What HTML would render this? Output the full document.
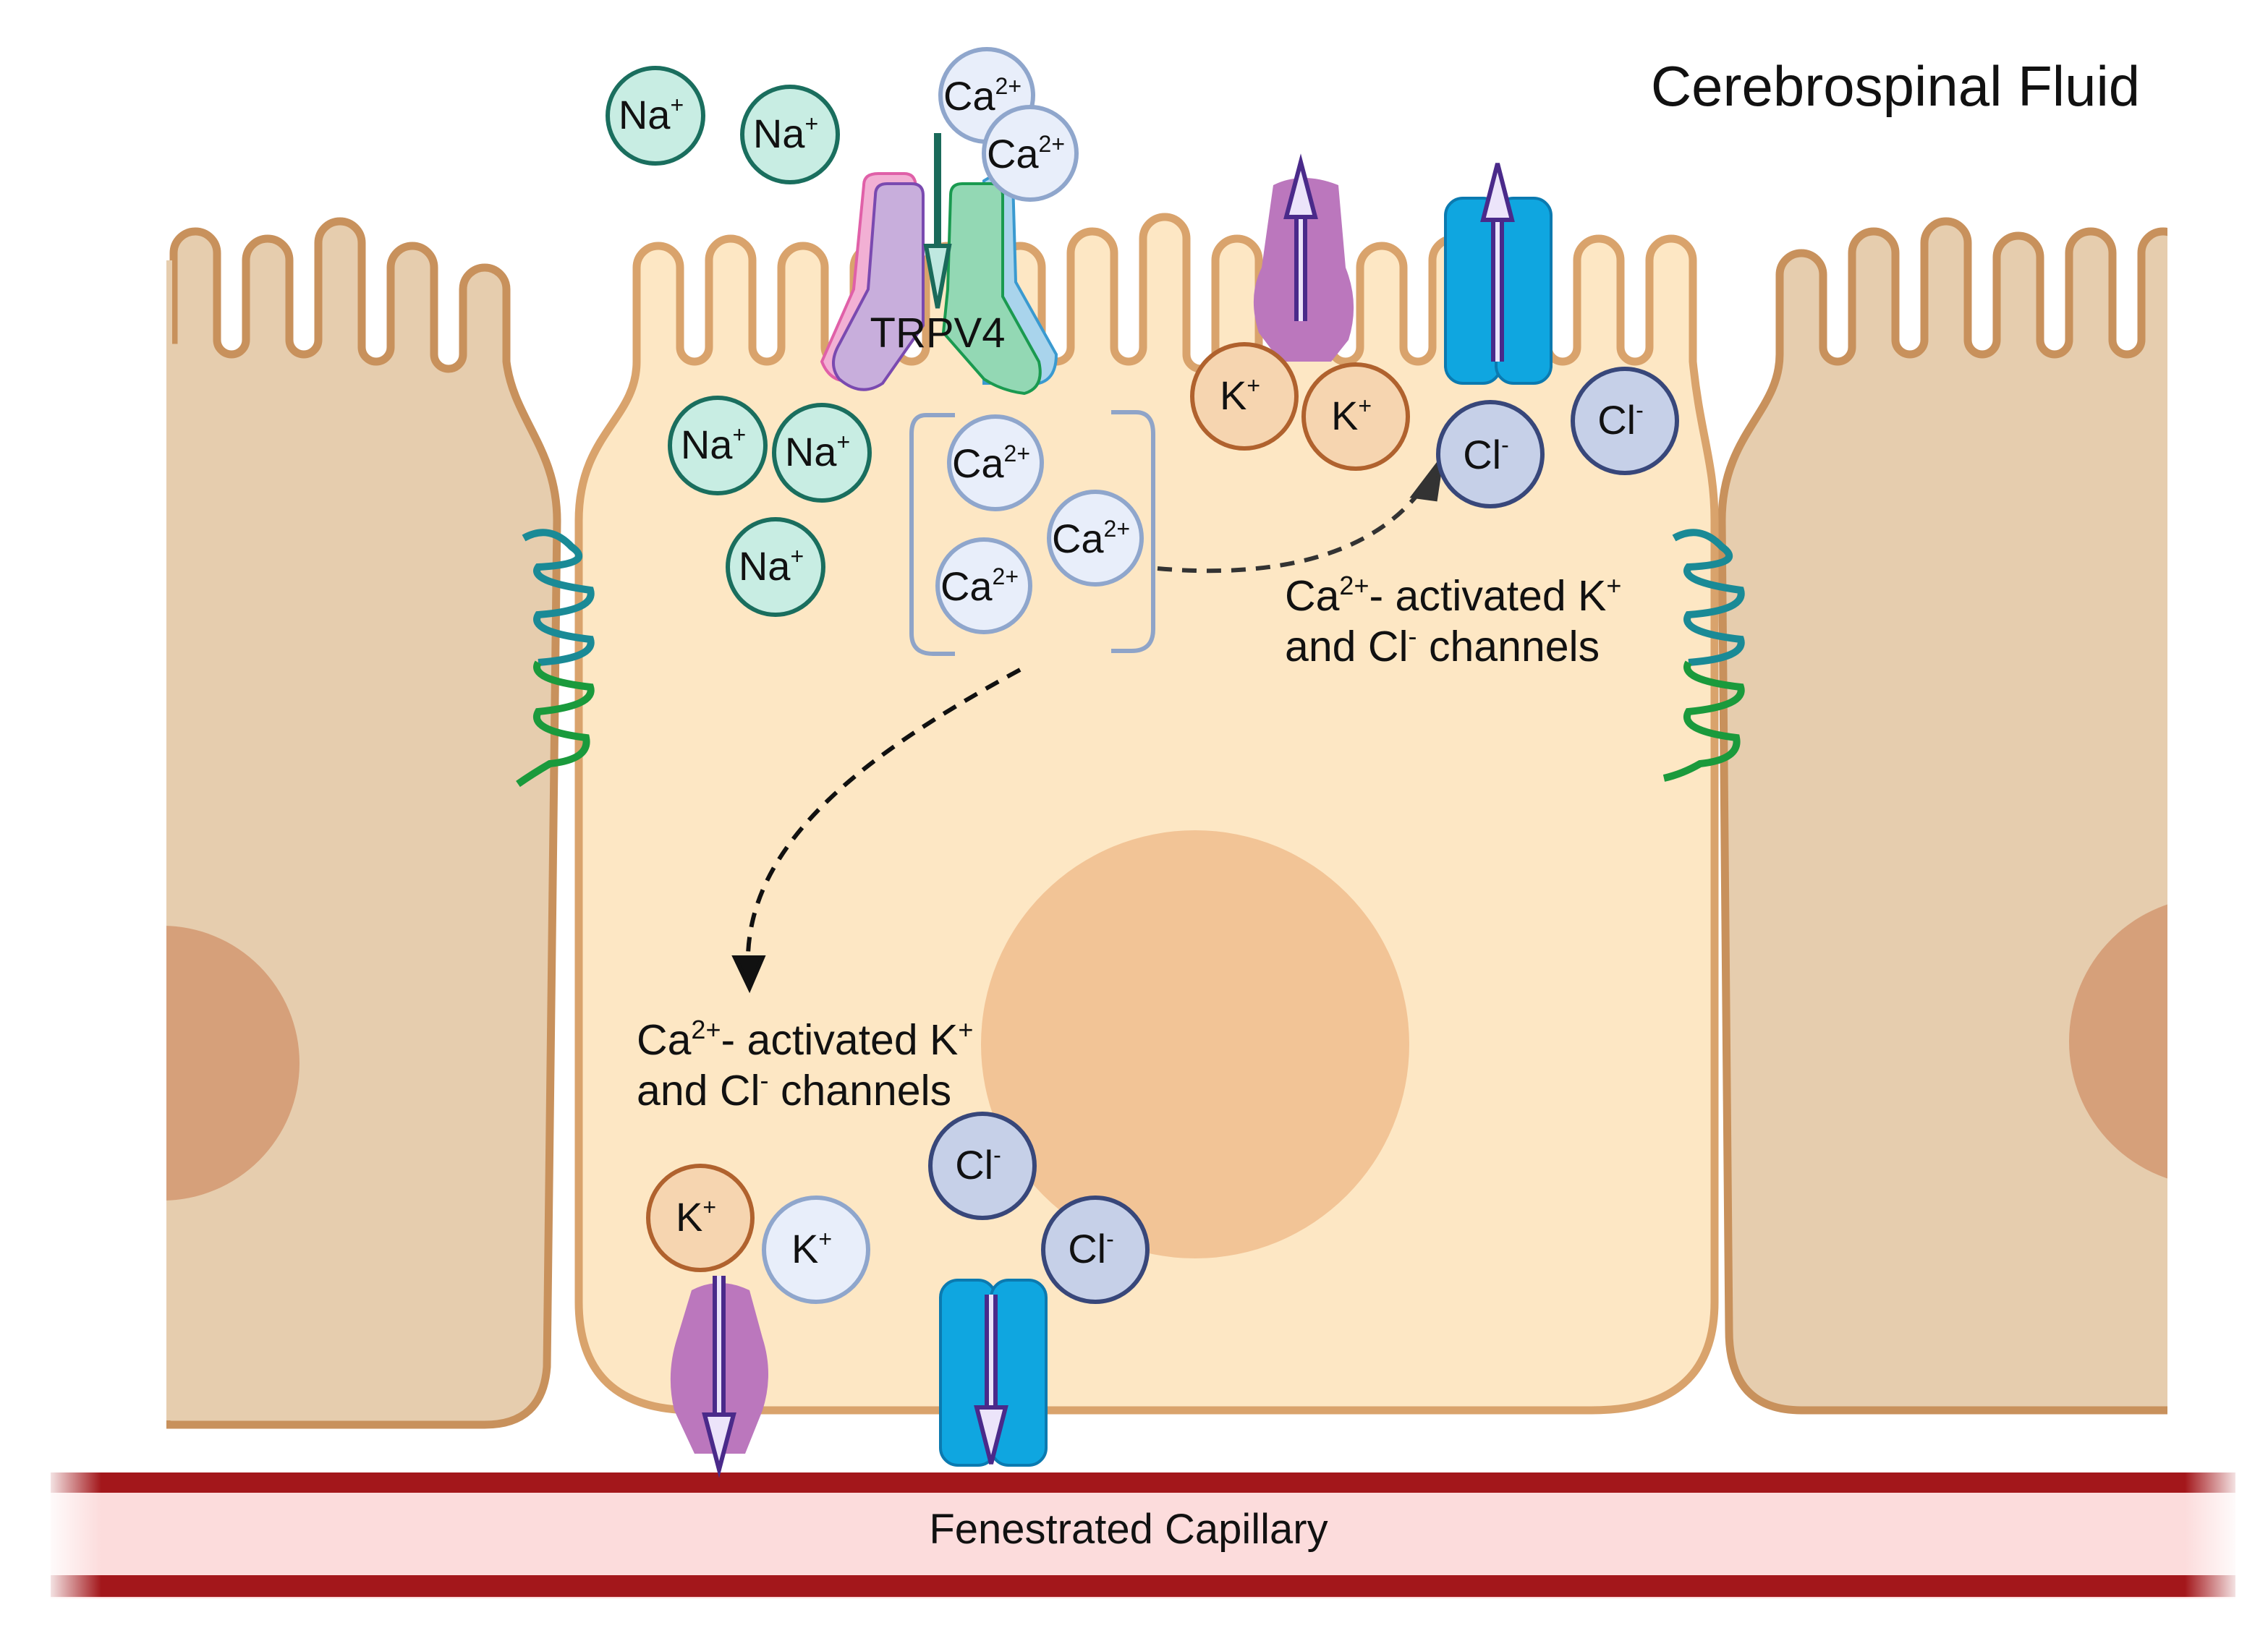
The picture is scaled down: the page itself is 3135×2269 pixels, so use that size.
<!DOCTYPE html>
<html><head><meta charset="utf-8"><style>
html,body{margin:0;padding:0;background:#fff}
svg{display:block}
text{font-family:"Liberation Sans",sans-serif;fill:#111}
</style></head><body>
<svg width="3135" height="2269" viewBox="0 0 1567.5 1134.5" xmlns="http://www.w3.org/2000/svg">
<defs>
<clipPath id="cl"><rect x="115" y="0" width="300" height="1000"/></clipPath>
<clipPath id="cr"><rect x="1180" y="0" width="318" height="1000"/></clipPath>
<linearGradient id="fadeL" x1="0" x2="1" y1="0" y2="0">
<stop offset="0" stop-color="#fff" stop-opacity="1"/><stop offset="1" stop-color="#fff" stop-opacity="0"/></linearGradient>
<linearGradient id="fadeR" x1="1" x2="0" y1="0" y2="0">
<stop offset="0" stop-color="#fff" stop-opacity="1"/><stop offset="1" stop-color="#fff" stop-opacity="0"/></linearGradient>
</defs>

<!-- capillary -->
<rect x="35" y="1018" width="1510" height="87" fill="#fcdcdc"/>
<rect x="35" y="1018" width="1510" height="14" fill="#a3171b"/>
<rect x="35" y="1089" width="1510" height="15" fill="#a3171b"/>
<rect x="30" y="1012" width="40" height="100" fill="url(#fadeL)"/>
<rect x="1510" y="1012" width="40" height="100" fill="url(#fadeR)"/>
<text x="780" y="1067" font-size="29" text-anchor="middle">Fenestrated Capillary</text>

<!-- left cell -->
<path d="M115 985 L115 235 L120 235 L120 175 A15 15 0 0 1 150 175 L150 235 A10 10 0 0 0 170 235 L170 180 A15 15 0 0 1 200 180 L200 235 A10 10 0 0 0 220 235 L220 168 A15 15 0 0 1 250 168 L250 240 A10 10 0 0 0 270 240 L270 185 A15 15 0 0 1 300 185 L300 245 A10 10 0 0 0 320 245 L320 200 A15 15 0 0 1 350 200 L350 250 C355 290 385 310 385 360 L378 945 Q375 985 335 985 L115 985 Z" fill="#e6cdae" stroke="#c8915c" stroke-width="5.5"/>
<rect x="112" y="180" width="7" height="802" fill="#e6cdae"/>
<rect x="105" y="150" width="10" height="840" fill="#fff"/>
<circle cx="112" cy="735" r="95" fill="#d6a07a" clip-path="url(#cl)"/>

<!-- right cell -->
<path d="M1498 975 L1245 975 Q1195 975 1195 920 L1190 360 C1190 300 1230 285 1230 245 L1230 190 A15 15 0 0 1 1260 190 L1260 240 A10 10 0 0 0 1280 240 L1280 175 A15 15 0 0 1 1310 175 L1310 235 A10 10 0 0 0 1330 235 L1330 168 A15 15 0 0 1 1360 168 L1360 235 A10 10 0 0 0 1380 235 L1380 178 A15 15 0 0 1 1410 178 L1410 235 A10 10 0 0 0 1430 235 L1430 175 A15 15 0 0 1 1460 175 L1460 235 A10 10 0 0 0 1480 235 L1480 175 A15 15 0 0 1 1510 175" fill="#e6cdae" stroke="#c8915c" stroke-width="5.5"/>
<rect x="1498" y="100" width="70" height="900" fill="#fff"/>
<circle cx="1530" cy="720" r="100" fill="#d6a07a" clip-path="url(#cr)"/>

<!-- center cell -->
<path d="M400 900 L400 360 C400 300 440 290 440 250 L440 185 A15 15 0 0 1 470 185 L470 240 A10 10 0 0 0 490 240 L490 180 A15 15 0 0 1 520 180 L520 240 A10 10 0 0 0 540 240 L540 185 A15 15 0 0 1 570 185 L570 240 A10 10 0 0 0 590 240 L590 185 A15 15 0 0 1 620 185 L620 240 A10 10 0 0 0 640 240 L640 185 A15 15 0 0 1 670 185 L670 240 A10 10 0 0 0 690 240 L690 185 A15 15 0 0 1 720 185 L720 240 A10 10 0 0 0 740 240 L740 175 A15 15 0 0 1 770 175 L770 240 A10 10 0 0 0 790 240 L790 165 A15 15 0 0 1 820 165 L820 245 A10 10 0 0 0 840 245 L840 180 A15 15 0 0 1 870 180 L870 240 A10 10 0 0 0 890 240 L890 180 A15 15 0 0 1 920 180 L920 240 A10 10 0 0 0 940 240 L940 185 A15 15 0 0 1 970 185 L970 240 A10 10 0 0 0 990 240 L990 180 A15 15 0 0 1 1020 180 L1020 240 A10 10 0 0 0 1040 240 L1040 180 A15 15 0 0 1 1070 180 L1070 240 A10 10 0 0 0 1090 240 L1090 180 A15 15 0 0 1 1120 180 L1120 240 A10 10 0 0 0 1140 240 L1140 180 A15 15 0 0 1 1170 180 L1170 250 C1175 300 1185 320 1185 360 L1185 900 Q1185 975 1100 975 L480 975 Q400 975 400 900 Z" fill="#fde7c4" stroke="#d9a36c" stroke-width="5.5"/>
<circle cx="826" cy="722" r="148" fill="#f2c496"/>

<!-- tight junctions -->
<path d="M362 372 Q380 362 395 378 Q412 390 372 392 Q365 402 408 408 Q412 422 372 425 Q365 437 408 442 Q412 455 372 458" fill="none" stroke="#1a8a96" stroke-width="5"/>
<path d="M372 458 Q365 470 408 475 Q412 488 372 492 Q365 505 405 510 Q408 525 380 528 Q368 535 358 542" fill="none" stroke="#1a9a3c" stroke-width="5"/>
<path d="M1157 372 Q1175 362 1190 378 Q1207 390 1167 392 Q1160 402 1203 408 Q1207 422 1167 425 Q1160 437 1203 442 Q1207 455 1167 458" fill="none" stroke="#1a8a96" stroke-width="5"/>
<path d="M1167 458 Q1160 470 1203 475 Q1207 488 1167 492 Q1160 505 1200 510 Q1203 525 1175 528 Q1163 535 1150 538" fill="none" stroke="#1a9a3c" stroke-width="5"/>

<text x="1310" y="73" font-size="39" text-anchor="middle">Cerebrospinal Fluid</text>

<!-- TRPV4 -->
<path d="M597 128 Q597 120 607 120 L625 120 Q633 120 633 130 L630 205 L595 262 Q575 268 568 250 L590 200 Z" fill="#f2b0d4" stroke="#e060a8" stroke-width="2"/>
<path d="M680 125 Q690 118 700 125 L702 195 L730 245 Q730 262 718 265 L680 265 Z" fill="#a9d4ec" stroke="#3a9ad0" stroke-width="2"/>
<path d="M605 135 Q605 127 613 127 L630 127 Q638 127 638 135 L638 225 L610 265 Q595 275 580 262 Q572 252 580 238 L600 200 Z" fill="#c8aedc" stroke="#7a4ab0" stroke-width="2"/>
<path d="M657 135 Q657 127 665 127 L685 127 Q693 127 693 135 L693 205 L718 250 Q722 268 708 272 Q692 270 680 262 L652 230 L655 200 Z" fill="#93d8b4" stroke="#1a9a50" stroke-width="2"/>
<line x1="648" y1="92" x2="648" y2="200" stroke="#1a6a5a" stroke-width="5"/>
<path d="M640 170 L648 213 L656 170 Z" fill="#bfe8e0" stroke="#1a6a5a" stroke-width="3"/>
<text x="648" y="240" font-size="29" text-anchor="middle">TRPV4</text>

<!-- top purple channel -->
<path d="M880 128 Q900 118 925 128 L930 185 Q940 210 932 235 L920 250 L885 250 L870 230 Q862 205 872 185 Z" fill="#bb77bd"/>
<line x1="899" y1="222" x2="899" y2="150" stroke="#4a2a8a" stroke-width="9"/>
<line x1="899" y1="222" x2="899" y2="150" stroke="#ece4fa" stroke-width="3"/>
<path d="M889 150 L899 112 L909 150 Z" fill="#ece4fa" stroke="#4a2a8a" stroke-width="3"/>

<!-- top blue channel -->
<rect x="999" y="137" width="38" height="128" rx="12" fill="#0fa6e0" stroke="#0b7ab0" stroke-width="2"/>
<rect x="1034" y="137" width="38" height="128" rx="12" fill="#0fa6e0" stroke="#0b7ab0" stroke-width="2"/>
<line x1="1035" y1="250" x2="1035" y2="150" stroke="#4a2a8a" stroke-width="9"/>
<line x1="1035" y1="250" x2="1035" y2="150" stroke="#ece4fa" stroke-width="3"/>
<path d="M1025 152 L1035 113 L1045 152 Z" fill="#ece4fa" stroke="#4a2a8a" stroke-width="3"/>

<!-- bottom purple channel -->
<path d="M478 892 Q497 882 518 892 L527 925 Q535 950 527 975 L515 1005 L480 1005 L466 975 Q460 950 468 925 Z" fill="#bb77bd"/>
<line x1="497" y1="882" x2="497" y2="980" stroke="#4a2a8a" stroke-width="9"/>
<line x1="497" y1="882" x2="497" y2="980" stroke="#ece4fa" stroke-width="3"/>
<path d="M487 978 L497 1016 L507 978 Z" fill="#ece4fa" stroke="#4a2a8a" stroke-width="3"/>

<!-- bottom blue channel -->
<rect x="650" y="885" width="38" height="128" rx="12" fill="#0fa6e0" stroke="#0b7ab0" stroke-width="2"/>
<rect x="685" y="885" width="38" height="128" rx="12" fill="#0fa6e0" stroke="#0b7ab0" stroke-width="2"/>
<line x1="685" y1="895" x2="685" y2="975" stroke="#4a2a8a" stroke-width="9"/>
<line x1="685" y1="895" x2="685" y2="975" stroke="#ece4fa" stroke-width="3"/>
<path d="M675 973 L685 1012 L695 973 Z" fill="#ece4fa" stroke="#4a2a8a" stroke-width="3"/>

<!-- bracket -->
<path d="M660 287 L640 287 Q630 287 630 300 L630 438 Q630 452 645 452 L660 452" fill="none" stroke="#8fa4c8" stroke-width="3"/>
<path d="M768 285 L785 285 Q797 285 797 300 L797 435 Q797 450 782 450 L768 450" fill="none" stroke="#8fa4c8" stroke-width="3"/>

<!-- dashed arrows -->
<path d="M800 393 C880 400 950 385 985 335" fill="none" stroke="#333" stroke-width="3" stroke-dasharray="10 7"/>
<path d="M977 343 L996 318 L992 345 Z" fill="#333" stroke="#333" stroke-width="3"/>
<path d="M705 463 C600 520 520 580 517 660" fill="none" stroke="#111" stroke-width="3" stroke-dasharray="10 7"/>
<path d="M508 662 L518 683 L527 662 Z" fill="#111" stroke="#111" stroke-width="3"/>

<!-- labels -->
<g font-size="29.5">
<text x="888" y="422">Ca<tspan font-size="18" dy="-11">2+</tspan><tspan dy="11">- activated K</tspan><tspan font-size="18" dy="-11">+</tspan></text>
<text x="888" y="457">and Cl<tspan font-size="18" dy="-11">-</tspan><tspan dy="11"> channels</tspan></text>
<text x="440" y="729">Ca<tspan font-size="18" dy="-11">2+</tspan><tspan dy="11">- activated K</tspan><tspan font-size="18" dy="-11">+</tspan></text>
<text x="440" y="764">and Cl<tspan font-size="18" dy="-11">-</tspan><tspan dy="11"> channels</tspan></text>
</g>

<!-- ions -->
<g stroke-width="3" font-size="27">
<g fill="#c8ede3" stroke="#1a6e5e">
<circle cx="453" cy="80" r="33"/><circle cx="546" cy="93" r="33"/>
<circle cx="496" cy="308" r="33"/><circle cx="568" cy="313" r="33"/><circle cx="536" cy="392" r="33"/>
</g>
<g fill="#e8eefa" stroke="#8fa6cc">
<circle cx="682" cy="66" r="32"/><circle cx="712" cy="106" r="32"/>
<circle cx="688" cy="320" r="32"/><circle cx="757" cy="372" r="32"/><circle cx="680" cy="405" r="32"/>
<circle cx="564" cy="864" r="36"/>
</g>
<g fill="#f6d5b0" stroke="#b0622e">
<circle cx="860" cy="274" r="36"/><circle cx="937" cy="288" r="36"/><circle cx="484" cy="842" r="36"/>
</g>
<g fill="#c6d0e8" stroke="#38477a">
<circle cx="1030" cy="314" r="36"/><circle cx="1123" cy="291" r="36"/>
<circle cx="679" cy="806" r="36"/><circle cx="757" cy="864" r="36"/>
</g>
</g>
<g font-size="28" text-anchor="middle">
<text x="450" y="89">Na<tspan font-size="16" dy="-11">+</tspan></text>
<text x="543" y="102">Na<tspan font-size="16" dy="-11">+</tspan></text>
<text x="493" y="317">Na<tspan font-size="16" dy="-11">+</tspan></text>
<text x="565" y="322">Na<tspan font-size="16" dy="-11">+</tspan></text>
<text x="533" y="401">Na<tspan font-size="16" dy="-11">+</tspan></text>
<text x="679" y="76">Ca<tspan font-size="16" dy="-11">2+</tspan></text>
<text x="709" y="116">Ca<tspan font-size="16" dy="-11">2+</tspan></text>
<text x="685" y="330">Ca<tspan font-size="16" dy="-11">2+</tspan></text>
<text x="754" y="382">Ca<tspan font-size="16" dy="-11">2+</tspan></text>
<text x="677" y="415">Ca<tspan font-size="16" dy="-11">2+</tspan></text>
<text x="857" y="283">K<tspan font-size="16" dy="-11">+</tspan></text>
<text x="934" y="297">K<tspan font-size="16" dy="-11">+</tspan></text>
<text x="481" y="851">K<tspan font-size="16" dy="-11">+</tspan></text>
<text x="561" y="873">K<tspan font-size="16" dy="-11">+</tspan></text>
<text x="1027" y="324">Cl<tspan font-size="16" dy="-11">-</tspan></text>
<text x="1120" y="300">Cl<tspan font-size="16" dy="-11">-</tspan></text>
<text x="676" y="815">Cl<tspan font-size="16" dy="-11">-</tspan></text>
<text x="754" y="873">Cl<tspan font-size="16" dy="-11">-</tspan></text>
</g>
</svg>
</body></html>
